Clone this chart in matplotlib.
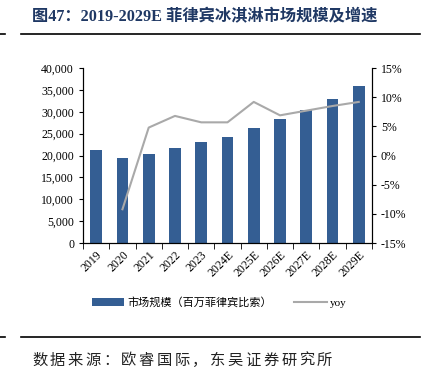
import matplotlib.pyplot as plt
from matplotlib.ticker import FuncFormatter

plt.rcParams['font.family'] = ['Liberation Serif', 'Noto Sans CJK SC']

years = ["2019", "2020", "2021", "2022", "2023", "2024E", "2025E",
         "2026E", "2027E", "2028E", "2029E"]
market = [21300, 19400, 20300, 21700, 23000, 24200, 26400, 28300, 30400, 32900, 35900]
yoy = [None, -9.2, 4.8, 6.8, 5.7, 5.7, 9.2, 6.9, 7.7, 8.5, 9.2]

bar_color = "#345E93"
line_color = "#A9A9A9"

fig = plt.figure(figsize=(4.26, 3.70), dpi=100)
ax = fig.add_axes([0.195, 0.343, 0.678, 0.473])
x = list(range(len(years)))
bars = ax.bar(x, market, width=0.45, color=bar_color, label="市场规模（百万菲律宾比索）")
ax.set_ylim(0, 40000)
ax.set_yticks(range(0, 40001, 5000))
ax.yaxis.set_major_formatter(FuncFormatter(lambda v, p: f"{int(v):,}"))
ax.set_xlim(-0.5, len(years) - 0.5)
ax.set_xticks(x)
ax.set_xticklabels(years, rotation=45, ha="right", rotation_mode="anchor", fontsize=8.5)
ax.tick_params(axis="x", length=0, pad=4)
ax.set_xticks([i + 0.5 for i in range(-1, len(years))], minor=True)
ax.tick_params(axis="x", which="minor", length=4, direction="out")
ax.tick_params(axis="y", labelsize=8.5, length=3, direction="out")
ax.spines["top"].set_visible(False)

ax2 = ax.twinx()
xs = [i for i, v in zip(x, yoy) if v is not None]
ys = [v for v in yoy if v is not None]
line, = ax2.plot(xs, ys, color=line_color, lw=1.5, label="yoy")
ax2.set_ylim(-15, 15)
ax2.set_yticks(range(-15, 16, 5))
ax2.yaxis.set_major_formatter(FuncFormatter(lambda v, p: f"{int(v)}%"))
ax2.tick_params(axis="y", labelsize=8.5, length=3, direction="out")
ax2.spines["top"].set_visible(False)

fig.legend(handles=[bars, line], loc="center", bbox_to_anchor=(0.515, 0.183),
           ncol=2, frameon=False, fontsize=8, handlelength=2.9, handletextpad=0.3,
           columnspacing=2.0)

fig.text(0.075, 0.953, "图47：2019-2029E 菲律宾冰淇淋市场规模及增速", fontsize=11.7,
         fontweight="bold", color="#1F3864", va="center",
         family=['Liberation Serif', 'Noto Sans CJK SC'])
fig.add_artist(plt.Line2D([0.05, 0.985], [0.908, 0.908], color="black", lw=1.2))
fig.add_artist(plt.Line2D([0.0, 0.012], [0.908, 0.908], color="black", lw=1.2))
fig.add_artist(plt.Line2D([0.05, 0.985], [0.089, 0.089], color="black", lw=1.2))
fig.add_artist(plt.Line2D([0.0, 0.012], [0.089, 0.089], color="black", lw=1.2))

# source line, spaced out character by character like the original
source = "数据来源：欧睿国际，东吴证券研究所"
step = 17.8 / 426
for i, ch in enumerate(source):
    fig.text(0.075 + i * step, 0.027, ch, fontsize=11, va="center",
             family=['Noto Sans CJK SC'], fontweight="light", color="#222222")

fig.savefig("out.png", dpi=100)
